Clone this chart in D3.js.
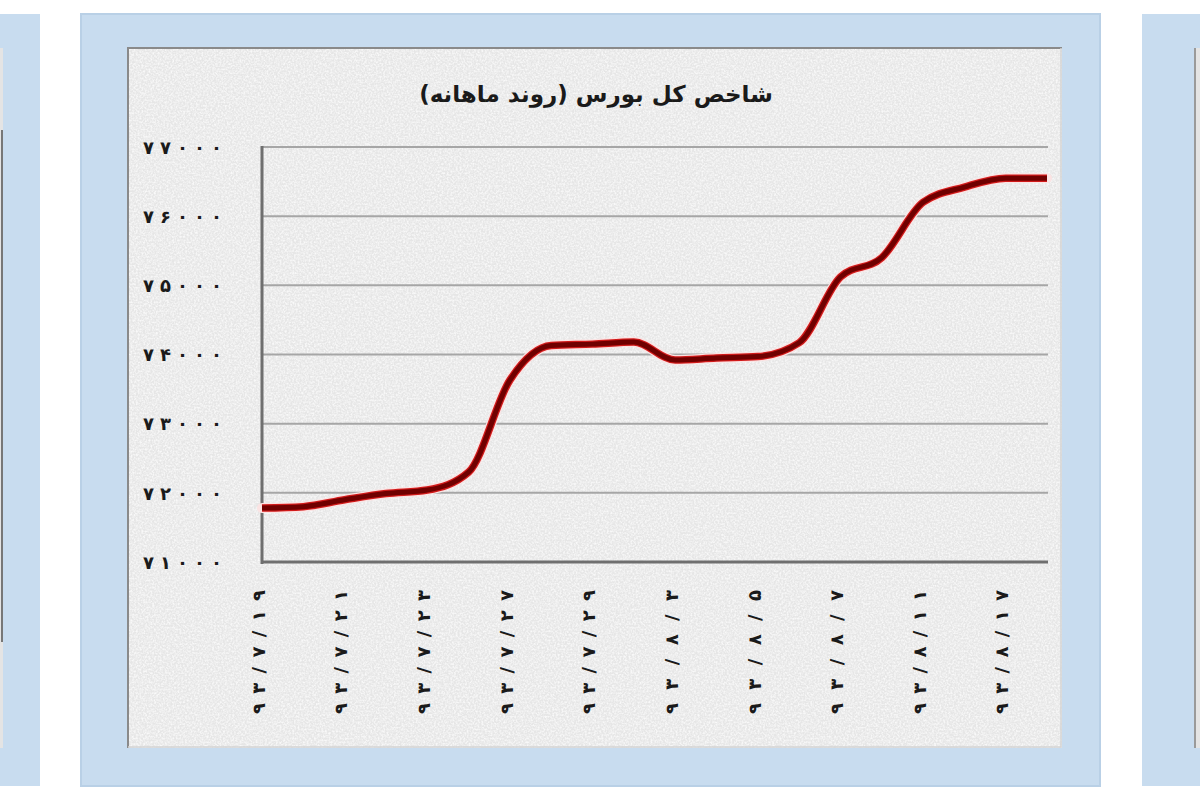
<!DOCTYPE html>
<html><head><meta charset="utf-8">
<script src="https://cdn.jsdelivr.net/npm/d3@7/dist/d3.min.js"></script>
<style>body{margin:0;background:#fff}svg{display:block}</style>
</head><body>
<svg id="c" width="1200" height="800"></svg>
<script>
// ---- data ----
const title = "شاخص کل بورس (روند ماهانه)";
const dates = ["۹۳/۷/۱۹","۹۳/۷/۲۰","۹۳/۷/۲۱","۹۳/۷/۲۲","۹۳/۷/۲۳","۹۳/۷/۲۶","۹۳/۷/۲۷","۹۳/۷/۲۸","۹۳/۷/۲۹","۹۳/۷/۳۰",
               "۹۳/۸/۳","۹۳/۸/۴","۹۳/۸/۵","۹۳/۸/۶","۹۳/۸/۷","۹۳/۸/۱۰","۹۳/۸/۱۱","۹۳/۸/۱۴","۹۳/۸/۱۷","۹۳/۸/۱۸"];
const values = [71780,71800,71900,71990,72040,72300,73630,74130,74150,74180,
                73920,73950,73970,74170,75120,75400,76200,76420,76550,76550];
const yTicks = [71000,72000,73000,74000,75000,76000,77000];
const labelEvery = 2;

const toFa = s => String(s).replace(/\d/g, d => "۰۱۲۳۴۵۶۷۸۹"[d]);
const FONT = "'DejaVu Sans', sans-serif";

const svg = d3.select("#c");
const defs = svg.append("defs");
const f = defs.append("filter").attr("id","noise").attr("x",0).attr("y",0).attr("width","100%").attr("height","100%");
f.append("feTurbulence").attr("type","fractalNoise").attr("baseFrequency",0.55).attr("numOctaves",2).attr("seed",3).attr("result","t");
f.append("feColorMatrix").attr("in","t").attr("type","matrix")
  .attr("values","0 0 0 0 1  0 0 0 0 1  0 0 0 0 1  0 0 0 -2.2 1.45");
f.append("feComposite").attr("in2","SourceGraphic").attr("operator","in");

// ---- decorative panels ----
const bg = svg.append("g");
bg.append("rect").attr("x",0).attr("y",14).attr("width",40).attr("height",772).attr("fill","#c8dcef");
bg.append("rect").attr("x",0).attr("y",48).attr("width",3).attr("height",700).attr("fill","#e4e4e4");
bg.append("rect").attr("x",1).attr("y",130).attr("width",2).attr("height",512).attr("fill","#777");
bg.append("rect").attr("x",1142).attr("y",14).attr("width",58).attr("height",772).attr("fill","#c8dcef");
bg.append("rect").attr("x",1194).attr("y",48).attr("width",6).attr("height",700).attr("fill","#e4e4e4");
bg.append("rect").attr("x",1194).attr("y",48).attr("width",2).attr("height",700).attr("fill","#9a9a9a");
bg.append("rect").attr("x",81).attr("y",14).attr("width",1019).attr("height",772)
  .attr("fill","#c8dcef").attr("stroke","#b9d0e6").attr("stroke-width",2);
bg.append("rect").attr("x",127).attr("y",47).attr("width",935).attr("height",701).attr("fill","#e6e6e6");
bg.append("rect").attr("x",127).attr("y",47).attr("width",935).attr("height",701)
  .attr("fill","#fff").attr("filter","url(#noise)").attr("opacity",0.75);
bg.append("path").attr("d","M128,748V48H1062").attr("fill","none").attr("stroke","#8a8a8a").attr("stroke-width",2);
bg.append("path").attr("d","M1061,48V747H128").attr("fill","none").attr("stroke","#d4d4d4").attr("stroke-width",1.5);

// ---- scales ----
const x = d3.scalePoint().domain(dates).range([262, 1047]);
const y = d3.scaleLinear().domain([71000, 77000]).range([562, 147]);

// gridlines
svg.append("g").selectAll("line").data(yTicks).join("line")
  .attr("x1",262).attr("x2",1048).attr("y1",d=>y(d)).attr("y2",d=>y(d))
  .attr("stroke","#a6a6a6").attr("stroke-width",2);

// y axis
const yAxis = svg.append("g").attr("transform","translate(262,0)")
  .call(d3.axisLeft(y).tickValues(yTicks).tickSize(0).tickPadding(40).tickFormat(d=>toFa(d)));
yAxis.select(".domain").remove();
yAxis.selectAll("text").attr("font-family",FONT).attr("font-weight","bold").attr("font-size",18)
  .attr("fill","#1a1a1a").attr("textLength",79).attr("lengthAdjust","spacing").attr("dy","0.35em");

// x axis labels
const xAxis = svg.append("g").attr("transform","translate(0,562)")
  .call(d3.axisBottom(x).tickValues(dates.filter((d,i)=>i%labelEvery===0)).tickSize(0).tickFormat(d=>d));
xAxis.select(".domain").remove();
xAxis.selectAll(".tick text")
  .attr("font-family",FONT).attr("font-weight","bold").attr("font-size",18).attr("fill","#1a1a1a")
  .attr("text-anchor","end").attr("transform","rotate(-90)")
  .attr("x",-28).attr("y",-4).attr("dy","0.35em")
  .attr("textLength",124).attr("lengthAdjust","spacing");

// frame lines
svg.append("line").attr("x1",262).attr("x2",262).attr("y1",146).attr("y2",564).attr("stroke","#6f6f6f").attr("stroke-width",3);
svg.append("line").attr("x1",261).attr("x2",1048).attr("y1",562).attr("y2",562).attr("stroke","#6f6f6f").attr("stroke-width",3);

// line series
const line = d3.line().x((d,i)=>x(dates[i])).y(d=>y(d)).curve(d3.curveMonotoneX);
svg.append("path").datum(values).attr("d",line).attr("fill","none")
  .attr("stroke","#fbe3e3").attr("stroke-width",10).attr("stroke-linejoin","round").attr("stroke-linecap","round");
svg.append("path").datum(values).attr("d",line).attr("fill","none")
  .attr("stroke","#d11a1a").attr("stroke-width",7.5).attr("stroke-linejoin","round").attr("stroke-linecap","butt");
svg.append("path").datum(values).attr("d",line).attr("fill","none")
  .attr("stroke","#700000").attr("stroke-width",5).attr("stroke-linejoin","round").attr("stroke-linecap","butt");

// title
svg.append("text").attr("x",596).attr("y",102).attr("text-anchor","middle")
  .attr("direction","rtl").style("direction","rtl")
  .attr("font-family",FONT).attr("font-weight","bold").attr("font-size",23).attr("fill","#1a1a1a")
  .text(title);
</script>
</body></html>
